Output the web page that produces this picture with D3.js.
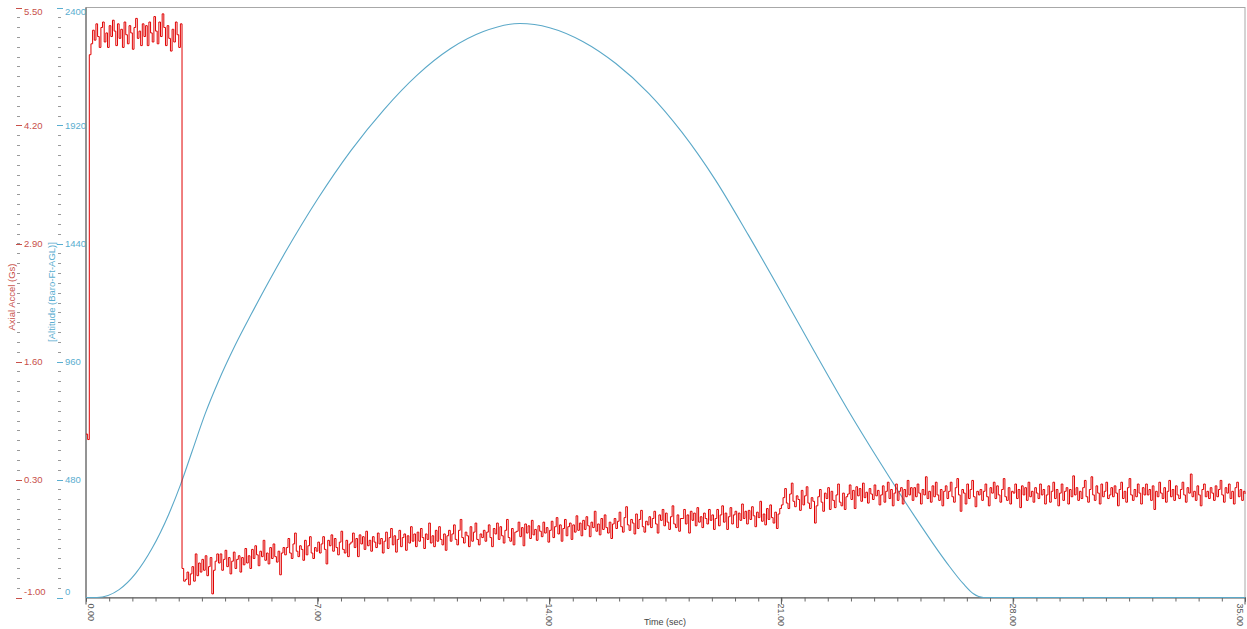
<!DOCTYPE html>
<meta charset="utf-8">
<script src="https://d3js.org/d3.v7.min.js"></script>
<style>
  body { margin: 0; background: #fff; }
  text { font-family: "Liberation Sans", Arial, sans-serif; }
</style>
<div id="chart"></div>
<script>

    // tick labels
    var timeTicks = [0, 7, 14, 21, 28, 35];
    var accelTicks = [-1.00, 0.30, 1.60, 2.90, 4.20, 5.50];
    var altTicks = [0, 480, 960, 1440, 1920, 2400];

    // altitude (baro ft AGL)
    var altTime = [0, 0.33, 1, 1.5, 2, 2.5, 2.85, 3.2, 3.6, 4, 4.5, 5, 6, 7, 8, 9, 10, 11, 12, 13.1,
        14, 15, 16, 17, 18, 19, 20, 21, 22, 23, 24, 25, 26, 26.5, 26.8, 27.1, 35];
    var altValue = [0, 0, 32, 98, 201, 339, 457, 593, 748, 880, 1025, 1155, 1400, 1622, 1818, 1985, 2125, 2232, 2302, 2335,
        2318, 2262, 2172, 2050, 1892, 1700, 1475, 1240, 1000, 765, 545, 335, 140, 55, 15, 0, 0];

    // axial accel (Gs), one sample every 0.05 s starting at 0 (one row per second)
    var accelStep = 0.05;
    var accelValue = [
        0.80, 0.74, 4.98, 5.10, 5.25, 5.14, 5.32, 5.18, 5.06, 5.28, 5.34, 5.12, 5.22, 5.06, 5.30, 5.18, 5.36, 5.24, 5.08, 5.32,
        5.16, 5.26, 5.06, 5.34, 5.20, 5.10, 5.30, 5.22, 5.04, 5.28, 5.38, 5.16, 5.24, 5.08, 5.32, 5.18, 5.30, 5.08, 5.34, 5.22,
        5.12, 5.40, 5.24, 5.10, 5.34, 5.18, 5.43, 5.28, 5.08, 5.30, 5.16, 5.02, 5.26, 5.12, 5.34, 5.20, 5.06, 5.32, -0.68, -0.82,
        -0.80, -0.72, -0.86, -0.74, -0.66, -0.82, -0.52, -0.76, -0.62, -0.72, -0.58, -0.70, -0.54, -0.76, -0.66, -0.56, -0.96, -0.70, -0.60, -0.52,
        -0.62, -0.52, -0.70, -0.58, -0.48, -0.66, -0.56, -0.74, -0.60, -0.50, -0.68, -0.58, -0.54, -0.72, -0.56, -0.64, -0.46, -0.62, -0.54, -0.68,
        -0.47, -0.57, -0.43, -0.53, -0.65, -0.49, -0.55, -0.37, -0.59, -0.51, -0.63, -0.45, -0.57, -0.41, -0.55, -0.61, -0.49, -0.75, -0.51, -0.45,
        -0.53, -0.45, -0.35, -0.51, -0.57, -0.41, -0.29, -0.49, -0.55, -0.43, -0.47, -0.59, -0.37, -0.53, -0.43, -0.33, -0.51, -0.57, -0.45, -0.49,
        -0.39, -0.51, -0.41, -0.33, -0.47, -0.63, -0.37, -0.43, -0.31, -0.49, -0.35, -0.45, -0.53, -0.39, -0.27, -0.47, -0.51, -0.37, -0.55, -0.41,
        -0.39, -0.29, -0.45, -0.35, -0.55, -0.31, -0.41, -0.33, -0.47, -0.27, -0.43, -0.37, -0.49, -0.33, -0.39, -0.45, -0.29, -0.41, -0.35, -0.51,
        -0.38, -0.28, -0.46, -0.34, -0.24, -0.42, -0.32, -0.50, -0.36, -0.26, -0.44, -0.34, -0.30, -0.48, -0.32, -0.40, -0.22, -0.38, -0.30, -0.44,
        -0.28, -0.38, -0.24, -0.34, -0.46, -0.30, -0.36, -0.18, -0.40, -0.32, -0.44, -0.26, -0.38, -0.22, -0.36, -0.42, -0.30, -0.48, -0.32, -0.26,
        -0.38, -0.30, -0.20, -0.36, -0.42, -0.26, -0.14, -0.34, -0.40, -0.28, -0.32, -0.44, -0.22, -0.38, -0.28, -0.18, -0.36, -0.42, -0.30, -0.34,
        -0.26, -0.38, -0.28, -0.20, -0.34, -0.44, -0.24, -0.30, -0.18, -0.36, -0.22, -0.32, -0.40, -0.26, -0.14, -0.34, -0.38, -0.24, -0.42, -0.28,
        -0.27, -0.17, -0.33, -0.23, -0.43, -0.19, -0.29, -0.21, -0.35, -0.15, -0.31, -0.25, -0.37, -0.21, -0.27, -0.33, -0.17, -0.29, -0.23, -0.39,
        -0.26, -0.16, -0.34, -0.22, -0.12, -0.30, -0.20, -0.38, -0.24, -0.14, -0.32, -0.22, -0.18, -0.36, -0.20, -0.28, -0.10, -0.26, -0.18, -0.32,
        -0.15, -0.25, -0.11, -0.21, -0.33, -0.17, -0.23, -0.05, -0.27, -0.19, -0.31, -0.13, -0.25, -0.09, -0.23, -0.29, -0.17, -0.35, -0.19, -0.13,
        -0.24, -0.16, -0.06, -0.22, -0.28, -0.12, 0.00, -0.20, -0.26, -0.14, -0.18, -0.30, -0.08, -0.24, -0.14, -0.04, -0.22, -0.28, -0.16, -0.20,
        -0.11, -0.23, -0.13, -0.05, -0.19, -0.29, -0.09, -0.15, -0.03, -0.21, -0.07, -0.17, -0.25, -0.11, 0.01, -0.19, -0.23, -0.09, -0.27, -0.13,
        -0.13, -0.03, -0.19, -0.09, -0.29, -0.05, -0.15, -0.07, -0.21, -0.01, -0.17, -0.11, -0.23, -0.07, -0.13, -0.19, -0.03, -0.15, -0.09, -0.25,
        -0.13, -0.03, -0.21, -0.09, 0.01, -0.17, -0.07, -0.25, -0.11, -0.01, -0.19, -0.09, -0.05, -0.23, -0.07, -0.15, 0.03, -0.13, -0.05, -0.19,
        -0.04, -0.14, 0.00, -0.10, -0.22, -0.06, -0.12, 0.06, -0.16, -0.08, -0.20, -0.02, -0.14, 0.02, -0.12, -0.18, -0.06, -0.24, -0.08, -0.02,
        0.02, 0.10, 0.20, 0.04, -0.02, 0.14, 0.26, 0.06, 0.00, 0.12, 0.08, -0.04, 0.18, 0.02, 0.12, 0.22, 0.04, -0.02, 0.10, 0.06,
        -0.18, 0.01, 0.11, 0.19, 0.05, -0.05, 0.15, 0.09, 0.21, -0.03, 0.17, 0.07, -0.01, 0.13, 0.25, 0.05, 0.01, 0.15, -0.03, 0.11,
        0.14, 0.24, 0.08, 0.18, -0.02, 0.22, 0.12, 0.20, 0.06, 0.26, 0.10, 0.16, 0.04, 0.20, 0.14, 0.08, 0.24, 0.12, 0.18, 0.02,
        0.13, 0.23, 0.05, 0.17, 0.27, 0.09, 0.19, 0.01, 0.15, 0.25, 0.07, 0.17, 0.21, 0.03, 0.19, 0.11, 0.29, 0.13, 0.21, 0.07,
        0.21, 0.11, 0.25, 0.15, 0.03, 0.19, 0.13, 0.33, 0.09, 0.17, 0.05, 0.23, 0.11, 0.27, 0.13, 0.07, 0.19, 0.01, 0.17, 0.23,
        0.09, 0.17, 0.27, 0.11, 0.05, 0.21, 0.31, 0.13, -0.05, 0.19, 0.15, 0.03, 0.25, 0.09, 0.19, 0.29, 0.11, 0.00, 0.17, 0.13,
        0.19, 0.07, 0.17, 0.25, 0.11, 0.01, 0.21, 0.15, 0.27, 0.09, 0.23, 0.13, 0.05, 0.19, 0.31, 0.11, 0.07, 0.21, 0.03, 0.17,
        0.15, 0.25, 0.09, 0.19, -0.01, 0.23, 0.13, 0.21, 0.07, 0.27, 0.11, 0.17, 0.05, 0.21, 0.15, 0.09, 0.25, 0.13, 0.19, 0.03,
        0.13, 0.23, 0.05, 0.17, 0.27, 0.09, 0.19, 0.01, 0.15, 0.25, 0.07, 0.17, 0.21, 0.03, 0.19, 0.11, 0.34, 0.13, 0.21, 0.07,
        0.17, 0.09, 0.21, 0.29, 0.11, 0.05, 0.19, 0.33, 0.13, 0.07, 0.23, 0.15, 0.03, 0.25, 0.11, 0.17, 0.27, 0.09, 0.13, 0.21,
        0.11, 0.23, 0.15, 0.01, 0.19, 0.27, 0.09, 0.17, 0.05, 0.21, 0.31, 0.13, 0.07, 0.19, 0.11, 0.25, 0.15, 0.03, 0.21, 0.13,
        0.25, 0.13, 0.19, 0.07, 0.23, -0.03, 0.17, 0.11, 0.27, 0.15, 0.09, 0.21, 0.05, 0.17, 0.29, 0.11, 0.19, 0.07, 0.23, 0.13,
        0.09, 0.19, 0.27, 0.13, 0.05, 0.21, 0.15, 0.36, 0.11, 0.17, 0.07, 0.23, 0.13, 0.01, 0.19, 0.25, 0.11, 0.17, 0.09, 0.21,
        0.15, 0.07, 0.23, 0.11, 0.19, 0.29, 0.13, 0.05, 0.21, 0.15, 0.25, 0.09, 0.17, 0.03, 0.21, 0.27, 0.11, 0.19, 0.07, 0.17,
        0.14
    ];

    var redAxis = "#c8504a", redLine = "#e00000";
    var blueAxis = "#5aaed0", blueLine = "#5aa8c8";

    var W = 1247, H = 629;
    var plotL = 86, plotR = 1245, plotT = 7.5, plotB = 597.5;

    var svg = d3.select("#chart").append("svg")
        .attr("width", W)
        .attr("height", H);

    var x = d3.scaleLinear().domain([0, 35]).range([plotL, plotR]);
    var yA = d3.scaleLinear().domain([-1, 5.5]).range([plotB, plotT]);
    var yH = d3.scaleLinear().domain([0, 2400]).range([plotB, plotT]);

    // frame
    svg.append("rect")
        .attr("x", plotL).attr("y", plotT)
        .attr("width", plotR - plotL).attr("height", plotB - plotT)
        .attr("fill", "none").attr("stroke", "#a8a8a8");
    svg.append("line")
        .attr("x1", plotL).attr("x2", plotL).attr("y1", plotT).attr("y2", plotB)
        .attr("stroke", "#555");

    // bottom axis: minor every 0.7 s, labels every 7 s
    var minor = d3.range(0, 51).map(function (i) { return i * 0.7; });
    svg.append("g")
        .attr("transform", "translate(0," + plotB + ")")
        .call(d3.axisBottom(x).tickValues(minor).tickSize(4).tickFormat(""))
        .call(function (g) {
            g.select(".domain").attr("stroke", "#555");
            g.selectAll(".tick line").attr("stroke", "#666");
        });
    var xg = svg.append("g").attr("transform", "translate(0," + plotB + ")");
    xg.selectAll("line").data(timeTicks).enter().append("line")
        .attr("x1", function (d) { return x(d); }).attr("x2", function (d) { return x(d); })
        .attr("y1", 0).attr("y2", 7).attr("stroke", "#555");
    xg.selectAll("text").data(timeTicks).enter().append("text")
        .attr("transform", function (d) {
            var px = x(d);
            if (d == 0) px += 5;
            if (d == 35) px -= 5;
            return "translate(" + px + ",6)rotate(90)";
        })
        .attr("dy", "0.35em")
        .attr("fill", "#555")
        .style("font-size", "9px")
        .text(function (d) { return d.toFixed(2); });

    svg.append("text")
        .attr("x", 665).attr("y", 625)
        .attr("text-anchor", "middle")
        .attr("fill", "#444")
        .style("font-size", "9px")
        .text("Time (sec)");

    // left axes, 12 minor steps between labels
    function sideAxis(scale, ticks, x0, color, fmt) {
        var g = svg.append("g");
        var step = (ticks[1] - ticks[0]) / 12;
        var mins = d3.range(0, 61).map(function (i) { return ticks[0] + i * step; });
        g.selectAll("line.mi").data(mins).enter().append("line")
            .attr("x1", x0 + 1).attr("x2", x0 + 4)
            .attr("y1", function (d) { return Math.round(scale(d)) + 0.5; })
            .attr("y2", function (d) { return Math.round(scale(d)) + 0.5; })
            .attr("stroke", "#999");
        g.selectAll("line.ma").data(ticks).enter().append("line")
            .attr("x1", x0).attr("x2", x0 + 6)
            .attr("y1", function (d) { return Math.round(scale(d)) + 0.5; })
            .attr("y2", function (d) { return Math.round(scale(d)) + 0.5; })
            .attr("stroke", color);
        g.selectAll("text").data(ticks).enter().append("text")
            .attr("x", x0 + 8)
            .attr("y", function (d) { return scale(d); })
            .attr("dy", function (d, i) { return i == 0 ? "-0.25em" : (i == ticks.length - 1 ? "0.8em" : "0.35em"); })
            .attr("fill", color)
            .style("font-size", "9.5px")
            .text(fmt);
    }
    sideAxis(yA, accelTicks, 16, redAxis, function (d) { return d.toFixed(2); });
    sideAxis(yH, altTicks, 57, blueAxis, function (d) { return d; });

    svg.append("text")
        .attr("transform", "translate(15,297)rotate(-90)")
        .attr("text-anchor", "middle")
        .attr("fill", redAxis)
        .style("font-size", "9.5px")
        .text("Axial Accel (Gs)");
    svg.append("text")
        .attr("transform", "translate(55,292)rotate(-90)")
        .attr("text-anchor", "middle")
        .attr("fill", blueAxis)
        .style("font-size", "9.5px")
        .text("[Altitude (Baro-Ft-AGL)]");

    // altitude curve
    var altData = altTime.map(function (t, i) { return { t: t, v: altValue[i] }; });
    svg.append("path")
        .datum(altData)
        .attr("fill", "none")
        .attr("stroke", blueLine)
        .attr("stroke-width", 1.1)
        .attr("d", d3.line()
            .x(function (d) { return x(d.t); })
            .y(function (d) { return yH(d.v); })
            .curve(d3.curveMonotoneX));

    // accel trace
    var accData = accelValue.map(function (v, i) { return { t: i * accelStep, v: v }; });
    svg.append("path")
        .datum(accData)
        .attr("fill", "none")
        .attr("stroke", redLine)
        .attr("stroke-width", 1)
        .attr("d", d3.line()
            .x(function (d) { return x(d.t); })
            .y(function (d) { return yA(d.v); })
            .curve(d3.curveStepAfter));

</script>
